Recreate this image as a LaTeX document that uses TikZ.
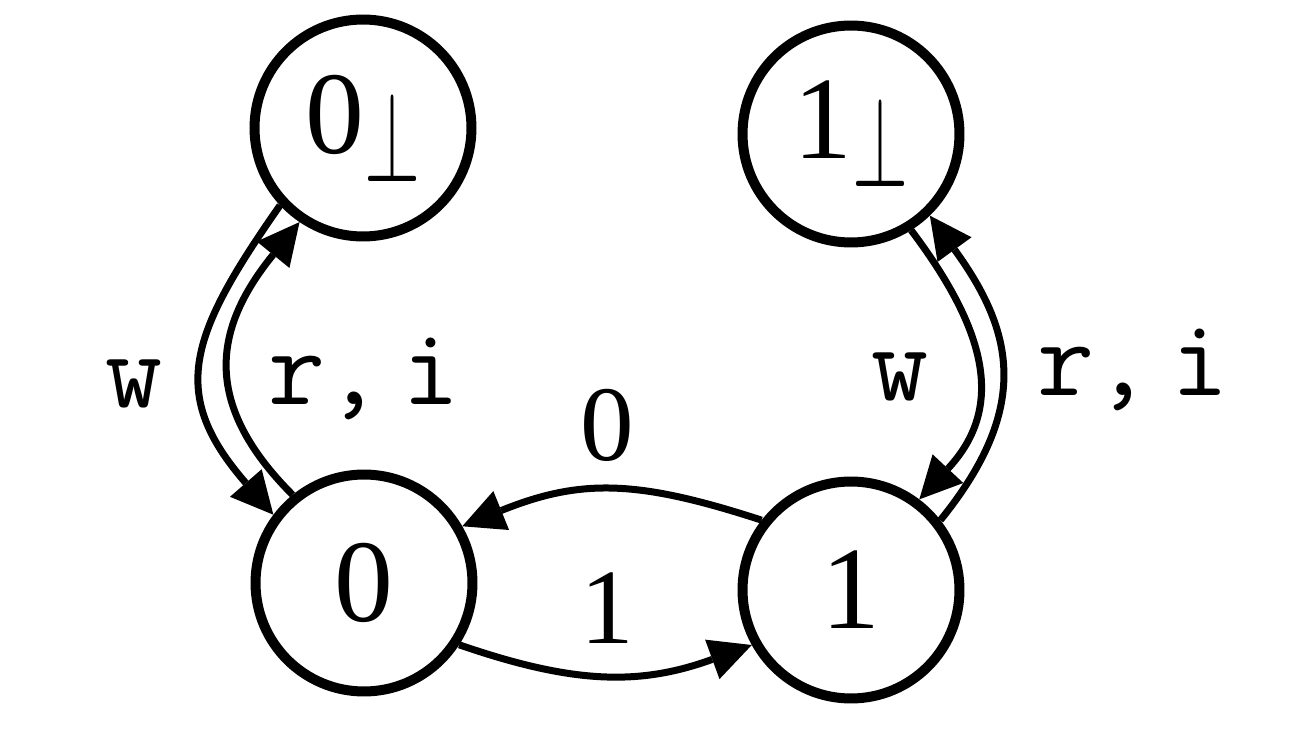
\documentclass[tikz,border=0pt]{standalone}
\usepackage{fontspec}
\setmainfont{Liberation Serif}
\usepackage{graphicx}
\usetikzlibrary{arrows.meta}
\newcommand\myperp{\raisebox{-0.56cm}{\resizebox{1.12cm}{1.8cm}{$\perp$}}}
\begin{document}
\begin{tikzpicture}[x=0.02cm,y=0.02cm,
  state/.style={circle, draw, line width=0.2cm, minimum size=4.34cm, inner sep=0pt, font=\fontsize{67}{80}\selectfont},
  edge/.style={line width=0.14cm, -{Triangle[length=0.84cm,width=0.84cm,line width=0pt]}},
  lbl/.style={anchor=base, inner sep=0pt, font=\fontsize{63}{70}\selectfont\ttfamily},
  numlbl/.style={anchor=base, inner sep=0pt, font=\fontsize{61}{70}\selectfont}]
\useasboundingbox (0,0) rectangle (1298,748);
\node[state] (zp) at (363,620) {0\myperp};
\node[state] (op) at (851,614) {1\myperp};
\node[state] (z) at (364,165) {0};
\node[state] (o) at (851,158) {1};
\draw[edge] (zp.223) .. controls +(235:160) and +(131:160) .. (z.143);
\draw[edge] (z.129) .. controls +(135:133) and +(231:133) .. (zp.236);
\draw[edge] (op.302) .. controls +(307:126) and +(47:126) .. (o.53);
\draw[edge] (o.38) .. controls +(51:144) and +(306:144) .. (op.314);
\draw[edge] (o.142) .. controls +(162:129) and +(22:129) .. (z.30);
\draw[edge] (z.327) .. controls +(341:120) and +(200:120) .. (o.209);
\node[lbl] (lw) at (134.5,341) {w};
\node[lbl] (lri) at (364,344) {r,\kern0.18em i};
\node[lbl] (rw) at (900,348) {w};
\node[lbl] (rri) at (1133,353) {r,\kern0.18em i};
\node[numlbl] (l0) at (607.5,288) {0};
\node[numlbl] (l1) at (607.5,105) {1};
\end{tikzpicture}
\end{document}
